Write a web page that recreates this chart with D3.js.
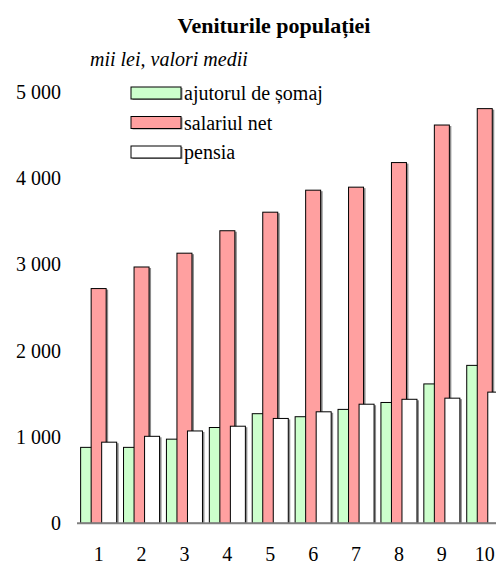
<!DOCTYPE html>
<html>
<head>
<meta charset="utf-8">
<script src="https://cdn.jsdelivr.net/npm/d3@7"></script>
<style>
  html, body { margin: 0; padding: 0; background: #fff; }
  svg { display: block; }
  svg text { font-family: "Liberation Serif", "Times New Roman", serif; }
</style>
</head>
<body>
<svg id="chart" width="496" height="565"></svg>
<script>
// Average household incomes by category (thousand lei)
const categories = ["1", "2", "3", "4", "5", "6", "7", "8", "9", "10"];
const seriesNames = ["ajutorul de șomaj", "salariul net", "pensia"];
const somaj   = [880, 880, 975, 1110, 1270, 1235, 1320, 1400, 1615, 1830];
const salariu = [2720, 2970, 3130, 3390, 3605, 3860, 3895, 4180, 4615, 4805];
const pensia  = [940, 1008, 1070, 1125, 1215, 1292, 1380, 1437, 1450, 1520];
const yTicks  = [0, 1000, 2000, 3000, 4000, 5000];
const seriesColors = ["#ccffcc", "#ffa0a0", "#ffffff"];

const values = [somaj, salariu, pensia];
const svg = d3.select("#chart");
const serif = "Liberation Serif, Times New Roman, serif";

const y = d3.scaleLinear().domain([0, 5000]).range([523.3, 91.8]);
const x0 = d3.scaleBand().domain(categories)
  .range([77.2, 77.2 + 42.9 * categories.length])
  .paddingInner(0.16).paddingOuter(0.08);
const barW = 15;
const x1 = d3.scalePoint().domain(seriesNames).range([0, x0.bandwidth() - barW]);
const color = d3.scaleOrdinal().domain(seriesNames).range(seriesColors);

// Title and unit note
svg.append("text").attr("x", 274).attr("y", 32.5)
  .attr("font-family", serif)
  .attr("text-anchor", "middle").attr("font-weight", "bold").attr("font-size", 22)
  .text("Veniturile populației");
svg.append("text").attr("x", 90).attr("y", 66)
  .attr("font-family", serif)
  .attr("font-style", "italic").attr("font-size", 20)
  .text("mii lei, valori medii");

// Value axis labels (no axis line)
const yAxis = d3.axisLeft(y).tickValues(yTicks).tickSize(0).tickPadding(0)
  .tickFormat(d => d3.format(",")(d).replace(/,/g, " "));
const gy = svg.append("g").attr("transform", "translate(61,0)").call(yAxis);
gy.select(".domain").remove();
gy.selectAll("text").attr("font-family", serif)
  .attr("font-size", 20).attr("fill", "#000").attr("dy", "0.32em");

// Bars, one group per category; later series overlap earlier ones
const groups = svg.append("g").selectAll("g").data(categories).join("g")
  .attr("transform", d => `translate(${x0(d)},0)`);

seriesNames.forEach((s, si) => {
  groups.append("rect")
    .attr("x", (d) => x1(s) + 2)
    .attr("y", (d, i) => y(values[si][i]) + 1)
    .attr("width", barW)
    .attr("height", (d, i) => y(0) - y(values[si][i]) - 1)
    .attr("fill", "#000").attr("opacity", 0.45);
  groups.append("rect")
    .attr("x", x1(s))
    .attr("y", (d, i) => y(values[si][i]))
    .attr("width", barW)
    .attr("height", (d, i) => y(0) - y(values[si][i]))
    .attr("fill", color(s)).attr("stroke", "#000").attr("stroke-width", 1);
});

// Baseline
svg.append("line").attr("x1", 77).attr("x2", 496)
  .attr("y1", y(0)).attr("y2", y(0))
  .attr("stroke", "#7f7f7f").attr("stroke-width", 2);

// Category labels
const xAxis = d3.axisBottom(x0).tickSize(0).tickPadding(0);
const gx = svg.append("g").attr("transform", "translate(0,555)").call(xAxis);
gx.select(".domain").remove();
gx.selectAll("text").attr("font-family", serif)
  .attr("font-size", 20).attr("fill", "#000").attr("dy", "0.32em");

// Legend
const legend = svg.append("g").selectAll("g").data(seriesNames).join("g")
  .attr("transform", (d, i) => `translate(131,${87 + i * 29.5})`);
legend.append("rect").attr("x", 1.5).attr("y", 1).attr("width", 50).attr("height", 12)
  .attr("fill", "#000").attr("opacity", 0.45);
legend.append("rect").attr("width", 50).attr("height", 12)
  .attr("fill", d => color(d)).attr("stroke", "#000").attr("stroke-width", 1);
legend.append("text").attr("x", 53).attr("y", 13)
  .attr("font-family", serif).attr("font-size", 20)
  .text(d => d);
</script>
</body>
</html>
